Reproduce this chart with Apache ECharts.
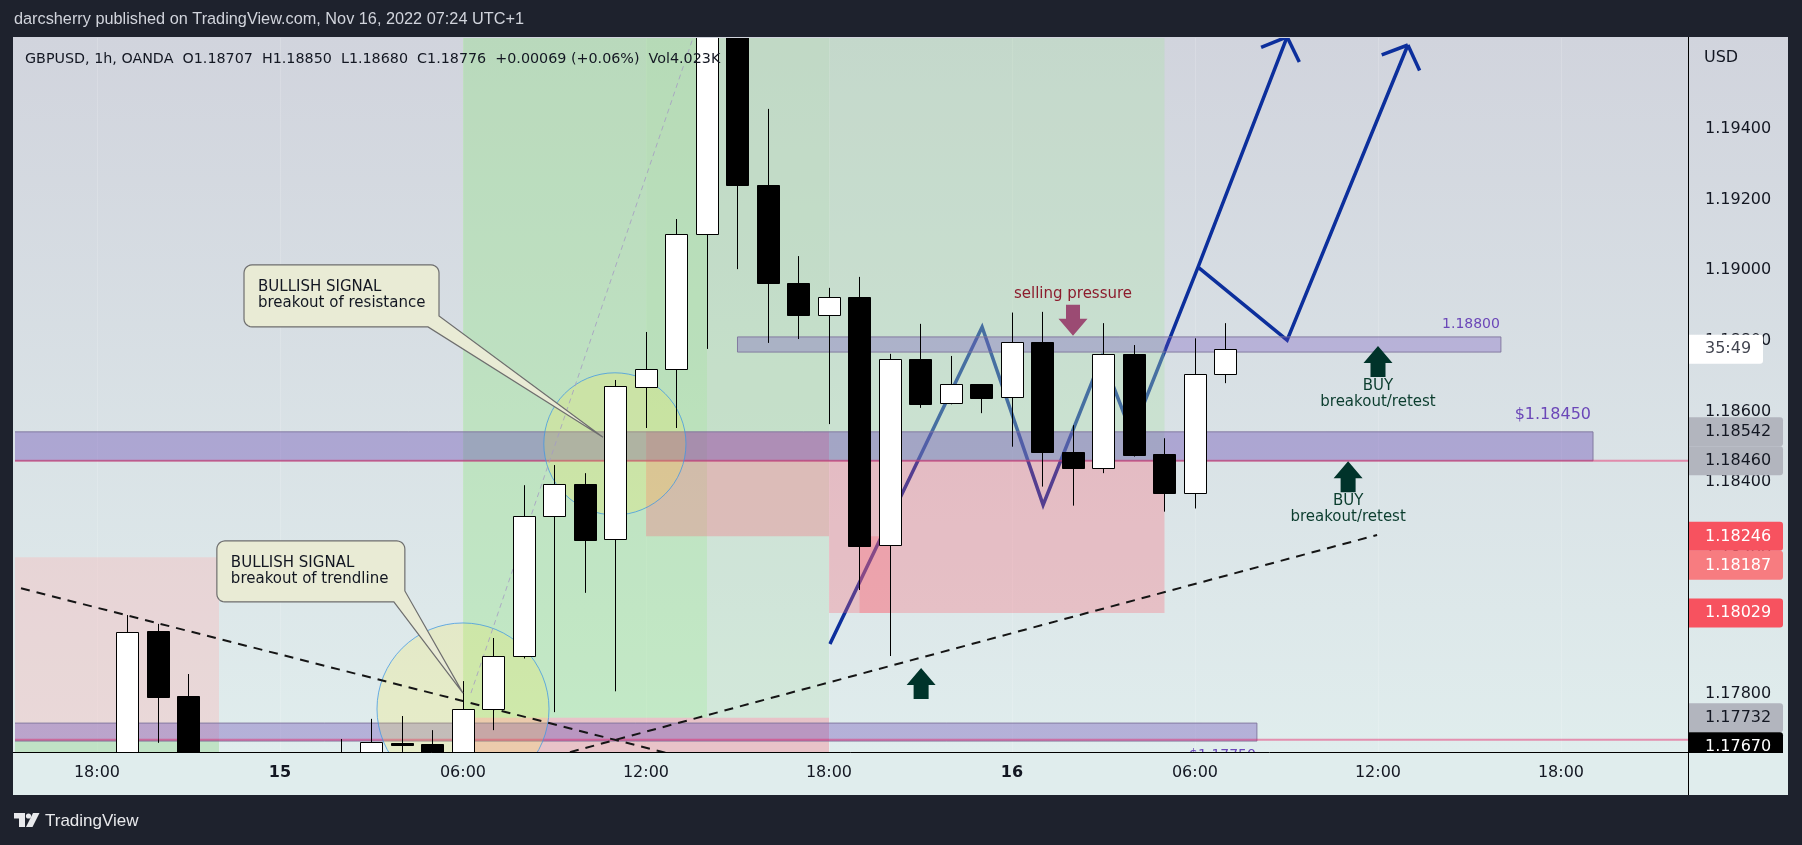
<!DOCTYPE html>
<html><head><meta charset="utf-8">
<script src="https://cdn.jsdelivr.net/npm/echarts@6/dist/echarts.min.js"></script>
<style>html,body{margin:0;padding:0;background:#1e222d;}#c{width:1802px;height:845px;}</style>
</head><body><div id="c"></div>
<script>
// ---------------- DATA ----------------
// hours relative to 2022-11-15 00:00 (UTC+1), 1h GBPUSD candles
const candleHours = [-5,-4,-3,2,3,4,5,6,7,8,9,10,11,12,13,14,15,16,17,18,19,20,21,22,23,24,25,26,27,28,29,30,31];
const opens  = [1.17500,1.17978,1.17794,1.17520,1.17560,1.17662,1.17658,1.17600,1.17757,1.17907,1.18304,1.18394,1.18239,1.18669,1.18720,1.19103,1.19750,1.19241,1.18964,1.18873,1.18924,1.18222,1.18748,1.18623,1.18677,1.18640,1.18796,1.18484,1.18441,1.18762,1.18479,1.18370,1.18707];
const highs  = [1.18023,1.17998,1.17856,1.17672,1.17729,1.17737,1.17697,1.17836,1.17958,1.18391,1.18448,1.18425,1.18689,1.18825,1.19145,1.19900,1.19950,1.19457,1.19040,1.18950,1.18981,1.18763,1.18848,1.18757,1.18677,1.18880,1.18882,1.18561,1.18850,1.18788,1.18524,1.18807,1.18850];
const lows   = [1.17450,1.17661,1.17480,1.17480,1.17540,1.17580,1.17570,1.17580,1.17697,1.17900,1.17748,1.18086,1.17807,1.18553,1.18553,1.18777,1.19003,1.18794,1.18805,1.18564,1.18094,1.17907,1.18610,1.18620,1.18595,1.18500,1.18387,1.18333,1.18425,1.18472,1.18316,1.18325,1.18680];
const closes = [1.17975,1.17791,1.17550,1.17560,1.17663,1.17656,1.17600,1.17757,1.17907,1.18304,1.18394,1.18236,1.18672,1.18720,1.19103,1.19750,1.19241,1.18964,1.18873,1.18924,1.18219,1.18748,1.18621,1.18677,1.18639,1.18796,1.18484,1.18441,1.18762,1.18476,1.18370,1.18707,1.18776];
const volumeText = '4.023K';

const xTickHours  = [-6,0,6,12,18,24,30,36,42];
const xTickLabels = ['18:00','15','06:00','12:00','18:00','16','06:00','12:00','18:00'];
const dayTickHours = [0,24];
const yTickValues = [1.178,1.180,1.182,1.184,1.186,1.188,1.190,1.192,1.194];

// price-scale tags
const tagValues = [1.18776,1.18542,1.18460,1.18246,1.18187,1.18029,1.17732,1.17670];
const tagTexts  = ['35:49','1.18542','1.18460','1.18246','1.18187','1.18029','1.17732','1.17670'];
const tagKinds  = ['clock','gray','gray','red','redLight','red','gray','black'];

// position-tool zones [h1, h2, pLow, pHigh]
const zones = [
  [-9,-2,1.17670,1.18187],
  [-9,-2,1.17400,1.17670],
  [6,14,1.17732,1.19900],
  [14,18,1.17732,1.19900],
  [12,18,1.18542,1.19900],
  [6,18,1.17400,1.17732],
  [12,18,1.18246,1.18542],
  [18,29,1.18460,1.19900],
  [18,29,1.18029,1.18460],
  [19,20,1.18029,1.18246]
];
const zoneKinds = ['pinkLight','greenShort','greenP2','greenLight','greenLight','pink','pink','greenP3','pink','pink'];

// price rectangles [h1, h2, pLow, pHigh] and their labels
const bands = [
  [-9,43.05,1.18460,1.18542],
  [15,40.03,1.18768,1.18811],
  [-9,32.03,1.17666,1.17717]
];
const bandLabels = ['$1.18450','1.18800','$1.17750'];
const hLines = [1.18460,1.17670];

// circles [centerH, centerP, edgeH]
const circles = [[10.98,1.18508,13.31],[6.0,1.17757,8.82]];

// trend lines
const trendLines = [
  [[-9,1.18110],[14,1.17603]],
  [[9,1.17623],[35.97,1.18250]]
];
const faintLine = [[6.26,1.17802],[13.54,1.19658]];

// projected path (blue)
const bluePaths = [
  [[18.03,1.17941],[23.02,1.18839],[25.02,1.18335],[26.95,1.18754],[27.93,1.18536],[30.10,1.19009],[33.02,1.19661]],
  [[30.10,1.19009],[33.02,1.18802],[36.98,1.19638]]
];

// callouts: tip [h,p], box top-left [h,p]
const callouts = [
  {tip:[10.59,1.18527], box:[-1.18,1.19015], lines:['BULLISH SIGNAL','breakout of resistance']},
  {tip:[6.00,1.17802], box:[-2.07,1.18233], lines:['BULLISH SIGNAL','breakout of trendline']}
];
const sellArrow = [26.0,1.18814];
const sellText = 'selling pressure';
const buyArrows = [[36.0,1.18785],[35.02,1.18459],[21.02,1.17873]];
const buyHasText = [true,true,false];

// ---------------- CHART ----------------
const XMIN = -8.6885, XMAX = 46.164, YMIN = 1.176351, YMAX = 1.196578;
const FONT = '"DejaVu Sans"';
const BLUE = '#0c2f9c';

const zoneFill = {
  pinkLight:'rgba(255,175,175,0.32)', greenShort:'rgba(136,209,128,0.36)',
  greenP2:'rgba(145,227,131,0.36)', greenLight:'rgba(175,224,172,0.28)',
  greenP3:'rgba(175,224,172,0.36)', pink:'rgba(251,100,117,0.30)'
};
const bandFill = ['rgba(100,68,180,0.38)','rgba(110,75,190,0.30)','rgba(100,68,180,0.35)'];
const tagStyle = {
  clock:{bg:'#ffffff',fg:'#434651',w:74}, gray:{bg:'#b2b5be',fg:'#131722',w:94},
  red:{bg:'#f7525f',fg:'#ffffff',w:94}, redLight:{bg:'#f77c80',fg:'#ffffff',w:94},
  black:{bg:'#000000',fg:'#ffffff',w:94}
};

function rectOf(api,h1,h2,pl,ph){
  const a = api.coord([h1,ph]), b = api.coord([h2,pl]);
  return {x:a[0], y:a[1], width:b[0]-a[0], height:b[1]-a[1]};
}
function layer(z, clip, fn){
  return {type:'custom', coordinateSystem:'cartesian2d', z:z, silent:true, clip:clip,
    data:[[0,1.185]], encode:{x:0,y:1}, renderItem:(p,api)=>({type:'group',children:fn(api)})};
}

const series = [];
// faint grid
series.push(layer(1,true,api=>xTickHours.map(h=>{
  const x = Math.round(api.coord([h,YMIN])[0])+0.5;
  return {type:'line',shape:{x1:x,y1:api.coord([h,YMAX])[1],x2:x,y2:api.coord([h,YMIN])[1]},style:{stroke:'rgba(255,255,255,0.16)',lineWidth:1}};
})));
// blue projected path (under the zones)
series.push(layer(2,true,api=>{
  const ch=[];
  bluePaths.forEach(path=>{
    const pts = path.map(q=>api.coord(q));
    ch.push({type:'polyline',shape:{points:pts},style:{stroke:BLUE,lineWidth:3.5,fill:'none',lineJoin:'miter'}});
    const t = pts[pts.length-1], q = pts[pts.length-2];
    const dx=t[0]-q[0], dy=t[1]-q[1], L=Math.hypot(dx,dy), ux=-dx/L, uy=-dy/L;
    [-1,1].forEach(s=>{
      const a=s*47*Math.PI/180;
      const rx=ux*Math.cos(a)-uy*Math.sin(a), ry=ux*Math.sin(a)+uy*Math.cos(a);
      ch.push({type:'line',shape:{x1:t[0],y1:t[1],x2:t[0]+rx*28,y2:t[1]+ry*28},style:{stroke:BLUE,lineWidth:3.5,lineCap:'butt'}});
    });
  });
  return ch;
}));
// zones
series.push(layer(3,true,api=>zones.map((zn,i)=>({type:'rect',shape:rectOf(api,zn[0],zn[1],zn[2],zn[3]),style:{fill:zoneFill[zoneKinds[i]]}}))));
// bands + horizontal lines + labels
series.push(layer(4,true,api=>{
  const ch=[];
  bands.forEach((b,i)=>{
    const r = rectOf(api,b[0],b[1],b[2],b[3]);
    ch.push({type:'rect',shape:r,style:{fill:bandFill[i],stroke:'rgba(125,115,155,0.9)',lineWidth:1}});
  });
  hLines.forEach(v=>{
    const y = api.coord([XMIN,v])[1];
    ch.push({type:'line',shape:{x1:api.coord([XMIN,v])[0],y1:y,x2:api.coord([XMAX,v])[0],y2:y},style:{stroke:'rgba(233,30,99,0.45)',lineWidth:2}});
  });
  const ra = rectOf(api,bands[0][0],bands[0][1],bands[0][2],bands[0][3]);
  const rb = rectOf(api,bands[1][0],bands[1][1],bands[1][2],bands[1][3]);
  const rc = rectOf(api,bands[2][0],bands[2][1],bands[2][2],bands[2][3]);
  ch.push({type:'text',style:{text:bandLabels[0],x:ra.x+ra.width-2,y:ra.y-17,align:'right',verticalAlign:'middle',font:'16px '+FONT,fill:'#6b47b8'}});
  ch.push({type:'text',style:{text:bandLabels[1],x:rb.x+rb.width-1,y:rb.y-13,align:'right',verticalAlign:'middle',font:'14px '+FONT,fill:'#6b47b8'}});
  ch.push({type:'text',style:{text:bandLabels[2],x:rc.x+rc.width-1,y:rc.y+rc.height+14,align:'right',verticalAlign:'middle',font:'14px '+FONT,fill:'#6b47b8'}});
  return ch;
}));
// circles
series.push(layer(5,true,api=>circles.map(c=>{
  const ctr = api.coord([c[0],c[1]]); const r = api.coord([c[2],c[1]])[0]-ctr[0];
  return {type:'circle',shape:{cx:ctr[0],cy:ctr[1],r:r},style:{fill:'rgba(255,235,59,0.2)',stroke:'rgba(60,150,230,0.75)',lineWidth:1}};
})));
// trend lines
series.push(layer(6,true,api=>{
  const ch = trendLines.map(l=>{const a=api.coord(l[0]),b=api.coord(l[1]);
    return {type:'line',shape:{x1:a[0],y1:a[1],x2:b[0],y2:b[1]},style:{stroke:'#151515',lineWidth:2,lineDash:[9,7]}};});
  const a=api.coord(faintLine[0]), b=api.coord(faintLine[1]);
  ch.push({type:'line',shape:{x1:a[0],y1:a[1],x2:b[0],y2:b[1]},style:{stroke:'rgba(165,155,195,0.8)',lineWidth:1,lineDash:[5,4]}});
  return ch;
}));
// candles
series.push({type:'custom',coordinateSystem:'cartesian2d',z:7,silent:true,clip:true,
  data:candleHours.map((h,i)=>[h,opens[i],closes[i],lows[i],highs[i]]),
  encode:{x:0,y:[1,2,3,4]},
  renderItem:(p,api)=>{
    const h=api.value(0),o=api.value(1),c=api.value(2),lo=api.value(3),hi=api.value(4);
    const x=Math.round(api.coord([h,o])[0]);
    const yO=api.coord([h,o])[1], yC=api.coord([h,c])[1], yL=api.coord([h,lo])[1], yH=api.coord([h,hi])[1];
    const top=Math.round(Math.min(yO,yC)), bot=Math.round(Math.max(yO,yC));
    const up=c>=o;
    return {type:'group',children:[
      {type:'line',shape:{x1:x+0.5,y1:yH,x2:x+0.5,y2:yL},style:{stroke:'#000',lineWidth:1}},
      {type:'rect',shape:{x:x-10.5,y:top+0.5,width:22,height:Math.max(1,bot-top)},style:{fill:up?'#ffffff':'#000000',stroke:'#000',lineWidth:1}}
    ]};
  }});
// annotations
series.push(layer(8,true,api=>{
  const ch=[];
  callouts.forEach(co=>{
    const b=api.coord(co.box), t=api.coord(co.tip);
    const bx=b[0], by=b[1], w=co.lines[1].length>21?195:188, hgt=co.lines[1].length>21?62:61, r=8;
    const pts=[];
    const arc=(cx,cy,a0,a1)=>{for(let k=0;k<=6;k++){const a=(a0+(a1-a0)*k/6)*Math.PI/180;pts.push([cx+r*Math.cos(a),cy+r*Math.sin(a)]);}};
    arc(bx+r,by+r,180,270);
    arc(bx+w-r,by+r,270,360);
    pts.push([bx+w,by+hgt-11]); pts.push(t); pts.push([bx+w-11,by+hgt]);
    arc(bx+r,by+hgt-r,90,180);
    ch.push({type:'polygon',shape:{points:pts},style:{fill:'#e9ebd5',stroke:'#6e6e6e',lineWidth:1.2}});
    ch.push({type:'text',style:{text:co.lines[0],x:bx+14,y:by+22,align:'left',verticalAlign:'middle',font:'15px '+FONT,fill:'#131722'}});
    ch.push({type:'text',style:{text:co.lines[1],x:bx+14,y:by+38,align:'left',verticalAlign:'middle',font:'15px '+FONT,fill:'#131722'}});
  });
  // selling pressure
  const s=api.coord(sellArrow), sx=s[0], sy=s[1];
  ch.push({type:'polygon',shape:{points:[[sx,sy],[sx-14.5,sy-17],[sx-7,sy-17],[sx-7,sy-31],[sx+7,sy-31],[sx+7,sy-17],[sx+14.5,sy-17]]},style:{fill:'#9b4b73'}});
  ch.push({type:'text',style:{text:sellText,x:sx,y:sy-42,align:'center',verticalAlign:'middle',font:'15px '+FONT,fill:'#8c1c2d'}});
  // buy arrows
  buyArrows.forEach((a,i)=>{
    const q=api.coord(a), tx=q[0], ty=q[1];
    ch.push({type:'polygon',shape:{points:[[tx,ty],[tx+14.5,ty+17],[tx+7.5,ty+17],[tx+7.5,ty+31],[tx-7.5,ty+31],[tx-7.5,ty+17],[tx-14.5,ty+17]]},style:{fill:'#00332a'}});
    if(buyHasText[i]){
      ch.push({type:'text',style:{text:'BUY',x:tx,y:ty+40,align:'center',verticalAlign:'middle',font:'15px '+FONT,fill:'#0b3d2e'}});
      ch.push({type:'text',style:{text:'breakout/retest',x:tx,y:ty+56,align:'center',verticalAlign:'middle',font:'15px '+FONT,fill:'#0b3d2e'}});
    }
  });
  return ch;
}));
// price-scale tags
series.push(layer(9,false,api=>{
  const ch=[]; let prevBottom=-1e9;
  const x0=Math.round(api.coord([XMAX,YMIN])[0])+1;
  tagValues.forEach((v,i)=>{
    const st=tagStyle[tagKinds[i]], hgt=29;
    let cy=api.coord([XMAX,v])[1];
    if(cy-hgt/2<prevBottom) cy=prevBottom+hgt/2;
    prevBottom=cy+hgt/2;
    ch.push({type:'rect',shape:{x:x0,y:cy-hgt/2,width:st.w,height:hgt,r:[0,3,3,0]},style:{fill:st.bg}});
    ch.push({type:'text',style:{text:tagTexts[i],x:x0+16,y:cy,align:'left',verticalAlign:'middle',font:'16px '+FONT,fill:st.fg}});
  });
  return ch;
}));

const n = closes.length;
const chg = closes[n-1]-closes[n-2];
const legendText = 'GBPUSD, 1h, OANDA  O'+opens[n-1].toFixed(5)+'  H'+highs[n-1].toFixed(5)+'  L'+lows[n-1].toFixed(5)+'  C'+closes[n-1].toFixed(5)+'  '+(chg>=0?'+':'')+chg.toFixed(5)+' ('+(chg>=0?'+':'')+(chg/closes[n-2]*100).toFixed(2)+'%)  Vol'+volumeText;

const option = {
  animation:false,
  backgroundColor:'#1e222d',
  grid:{left:15,top:38,width:1673,height:714,show:false},
  xAxis:{type:'value',min:XMIN,max:XMAX,axisLine:{show:false},axisTick:{show:false},splitLine:{show:false},
    axisLabel:{customValues:xTickHours,margin:13,color:'#131722',fontFamily:'DejaVu Sans',fontSize:16,
      formatter:v=>{const i=xTickHours.indexOf(Math.round(v));const t=xTickLabels[i];return dayTickHours.indexOf(Math.round(v))>=0?'{b|'+t+'}':t;},
      rich:{b:{fontWeight:'bold',fontFamily:'DejaVu Sans',fontSize:16,color:'#131722'}}}},
  yAxis:{type:'value',position:'right',min:YMIN,max:YMAX,axisLine:{show:false},axisTick:{show:false},splitLine:{show:false},
    axisLabel:{customValues:yTickValues,formatter:v=>v.toFixed(5),margin:17,align:'left',color:'#131722',fontFamily:'DejaVu Sans',fontSize:16}},
  graphic:[
    {type:'rect',z:-10,silent:true,shape:{x:13,y:37,width:1775,height:716},
      style:{fill:{type:'linear',x:0,y:0,x2:0,y2:1,colorStops:[{offset:0,color:'#d1d4dd'},{offset:1,color:'#e0eded'}]}}},
    {type:'rect',z:-9,silent:true,shape:{x:13,y:752,width:1775,height:43},style:{fill:'#e0eded'}},
    {type:'rect',z:100,silent:true,shape:{x:1689,y:753,width:98,height:42},style:{fill:'#e0eded'}},
    {type:'line',z:101,silent:true,shape:{x1:1688.5,y1:37,x2:1688.5,y2:795},style:{stroke:'#000',lineWidth:1}},
    {type:'line',z:101,silent:true,shape:{x1:13,y1:752.5,x2:1688.5,y2:752.5},style:{stroke:'#000',lineWidth:1}},
    {type:'text',z:101,silent:true,style:{text:'USD',x:1704,y:58,verticalAlign:'middle',font:'16px '+FONT,fill:'#131722'}},
    {type:'text',z:101,silent:true,style:{text:'darcsherry published on TradingView.com, Nov 16, 2022 07:24 UTC+1',x:14,y:20,verticalAlign:'middle',font:'16.3px "Liberation Sans"',fill:'#d1d4dc'}},
    {type:'text',z:101,silent:true,style:{text:legendText,x:25,y:59,verticalAlign:'middle',font:'14.3px '+FONT,fill:'#131722'}},
    {type:'polygon',z:101,silent:true,shape:{points:[[14,813],[25,813],[25,827],[19,827],[19,818.5],[14,818.5]]},style:{fill:'#e8e9ec'}},
    {type:'circle',z:101,silent:true,shape:{cx:28.5,cy:816,r:2.6},style:{fill:'#e8e9ec'}},
    {type:'polygon',z:101,silent:true,shape:{points:[[33,813],[39.5,813],[32.5,827],[26,827]]},style:{fill:'#e8e9ec'}},
    {type:'text',z:101,silent:true,style:{text:'TradingView',x:45,y:821,verticalAlign:'middle',font:'17px "Liberation Sans"',fill:'#e8e9ec'}}
  ],
  series:series
};
const chart = echarts.init(document.getElementById('c'),null,{width:1802,height:845,renderer:'canvas'});
chart.setOption(option);
</script>
</body></html>
